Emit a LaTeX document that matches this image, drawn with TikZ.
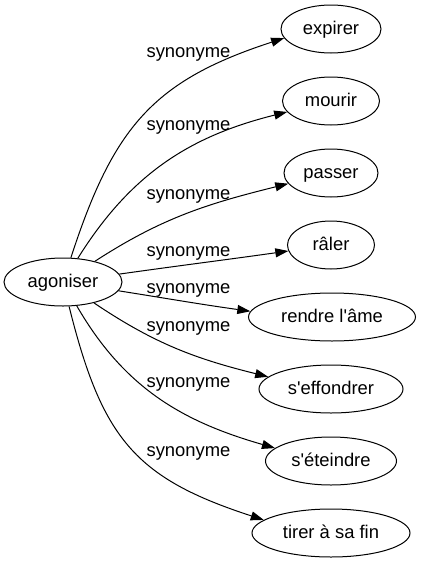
\documentclass[tikz,border=0pt]{standalone}
\usepackage{fontspec}
\setmainfont{Liberation Sans}[Ligatures=TeXOff]
\usetikzlibrary{arrows.meta,shapes.geometric}

\begin{document}
\begin{tikzpicture}[x=1pt,y=1pt,
  font=\fontsize{18.4}{22}\selectfont,
  word/.style={draw,ellipse,line width=1pt,minimum height=48pt,inner sep=0pt,text height=13pt,text depth=3pt},
  syn/.style={anchor=base},
  link/.style={line width=1pt,-{Triangle[length=13pt,width=9pt]}}]
  \useasboundingbox (0,0) rectangle (422,-563);

  \node [word,minimum width=118pt] (agoniser) at (63,-282) { agoniser };

  \node [word,minimum width=100pt] (expirer) at (331,-29) { expirer };
  \node [word,minimum width=97pt] (mourir) at (331,-101) { mourir };
  \node [word,minimum width=94pt] (passer) at (331,-173) { passer };
  \node [word,minimum width=87pt] (raler) at (331,-245) { râler };
  \node [word,minimum width=167pt] (rendre) at (332,-317) { rendre l'âme };
  \node [word,minimum width=144pt] (effondrer) at (331,-389) { s'effondrer };
  \node [word,minimum width=131pt] (eteindre) at (331,-461) { s'éteindre };
  \node [word,minimum width=158pt] (tirer) at (331,-533) { tirer à sa fin };

  \draw [link] (agoniser) to [out=72,in=198,looseness=1.15] (expirer.191);
  \draw [link] (agoniser) to [out=58,in=194] (mourir);
  \draw [link] (agoniser) to [out=33,in=194] (passer);
  \draw [link] (agoniser) to [out=8,in=188] (raler);
  \draw [link] (agoniser) to [out=-9,in=172] (rendre.176);
  \draw [link] (agoniser) to [out=-34,in=166] (effondrer.169);
  \draw [link] (agoniser) to [out=-60,in=164] (eteindre.167);
  \draw [link] (agoniser) to [out=-76,in=162,looseness=1.2] (tirer.169);

  \node [syn] (s1) at (188.5,-57) { synonyme };
  \node [syn] (s2) at (188.5,-130.5) { synonyme };
  \node [syn] (s3) at (188.5,-199.5) { synonyme };
  \node [syn] (s4) at (188.5,-256) { synonyme };
  \node [syn] (s5) at (188.5,-293) { synonyme };
  \node [syn] (s6) at (188.5,-331) { synonyme };
  \node [syn] (s7) at (188.5,-387.5) { synonyme };
  \node [syn] (s8) at (188.5,-456) { synonyme };
\end{tikzpicture}
\end{document}
